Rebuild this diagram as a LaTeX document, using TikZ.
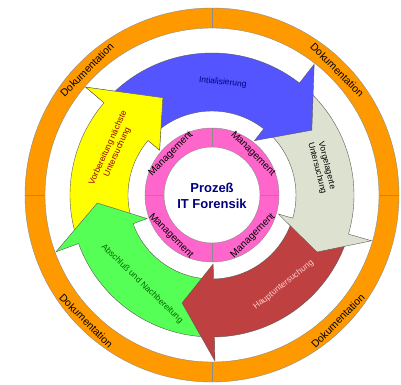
\documentclass[tikz,border=0pt]{standalone}
\usepackage{fontspec}
\setmainfont{Liberation Sans}

\definecolor{dokuorange}{HTML}{FF9900}
\definecolor{mgmtpink}{HTML}{FF66CC}
\definecolor{initblue}{HTML}{5555FF}
\definecolor{vorgrey}{HTML}{DDE2D0}
\definecolor{hauptred}{HTML}{BF4040}
\definecolor{abschlgreen}{HTML}{55FF55}
\definecolor{vorbyellow}{HTML}{FFFF00}
\definecolor{titlenavy}{HTML}{000080}

% circular arrow: fill, tail angle, head base angle, tip angle, tip radius
\newcommand{\circarrow}[5]{%
  \draw[arrowline, fill=#1] (#2:142) arc[start angle=#2, end angle=#3, radius=142]
    -- (#3:166) -- (#4:#5) -- (#3:69) -- (#3:84)
    arc[start angle=#3, end angle=#2, radius=84] -- cycle;}

\begin{document}
\begin{tikzpicture}[x=1pt, y=1pt,
  ringline/.style={draw=black!45, line width=0.4pt},
  arrowline/.style={draw=black!65, line width=0.4pt},
  doku/.style={font=\fontsize{10.5}{12}\selectfont},
  mgmt/.style={font=\fontsize{10}{12}\selectfont},
  steplabel/.style={font=\fontsize{8.5}{10}\selectfont, align=center}]

\useasboundingbox (-212,-189) rectangle (189,195);

\coordinate (m) at (0,0);

% Dokumentation ring
\draw[ringline, fill=dokuorange, even odd rule] (m) circle (187) circle (167);
\foreach \a in {0,90,180,270}
  \draw[ringline] (\a:167) -- (\a:187);

% arrows
\circarrow{vorbyellow}{196}{139.5}{116.8}{109}
\circarrow{abschlgreen}{268}{200}{184}{115}
\circarrow{hauptred}{-20}{-89}{-105.5}{112}
\circarrow{vorgrey}{48}{-16}{-28.5}{119.5}
\circarrow{initblue}{136}{52}{33}{119}

% yellow head lies over the blue tail
\fill[vorbyellow] (139.5:166) -- (116.8:109) -- (139.5:69) -- cycle;
\draw[arrowline] (139.5:142) -- (139.5:166) -- (116.8:109) -- (139.5:69) -- (139.5:84);

% Management ring
\draw[ringline, fill=mgmtpink, even odd rule] (m) circle (67) circle (48);
\foreach \a in {0,90,180,270}
  \draw[ringline] (\a:48) -- (\a:67);

\node[font=\bfseries\fontsize{13}{16}\selectfont, text=titlenavy, align=center]
  (title) at (0,-1) {Prozeß\\IT Forensik};

\node[doku, rotate=45] (doku1) at (135:177) {Dokumentation};
\node[doku, rotate=-45] (doku2) at (45:177) {Dokumentation};
\node[doku, rotate=-45] (doku3) at (225:178) {Dokumentation};
\node[doku, rotate=45] (doku4) at (315:178) {Dokumentation};

\node[mgmt, rotate=45] (mgmt1) at (135:58) {Management};
\node[mgmt, rotate=-45] (mgmt2) at (45:58) {Management};
\node[mgmt, rotate=-45] (mgmt3) at (225:58) {Management};
\node[mgmt, rotate=45] (mgmt4) at (315:58) {Management};

\node[steplabel, text=titlenavy, rotate=-5.5] (init) at (84.5:113) {Intialisierung};
\node[steplabel, rotate=-75.7] (vorg) at (14.3:113.5) {Vorgelagerte\\Untersuchung};
\node[steplabel, text=red!20, rotate=38.5] (haupt) at (-51.5:115) {Hauptuntersuchung};
\node[steplabel, text=green!40!black, rotate=-44] (abschl) at (231.8:113) {Abschluß und Nachbereitung};
\node[steplabel, text=red!60!black, rotate=65.6] (vorber) at (155.6:109) {Vorbereitung nächste\\Untersuchung};
\end{tikzpicture}
\end{document}
